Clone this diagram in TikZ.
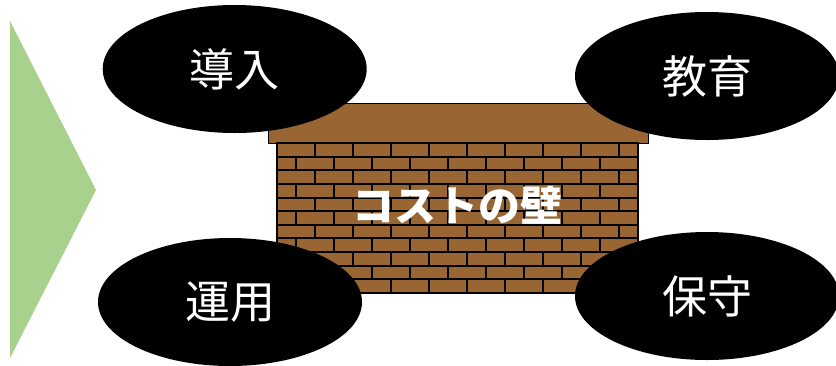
\documentclass[tikz,border=0pt]{standalone}
\usepackage{fontspec}
\newfontfamily\jpfont{Noto Sans CJK JP}
\usetikzlibrary{shapes.geometric}
\definecolor{brickbrown}{RGB}{153,102,51}
\definecolor{arrowgreen}{RGB}{169,209,142}
\begin{document}
\begin{tikzpicture}[x=1pt,y=-1pt,
  bubble/.style={ellipse, fill=black, minimum width=264pt, minimum height=128pt,
    inner sep=0pt, text=white, font=\jpfont\fontsize{45}{50}\selectfont},
  mortar/.style={line width=2pt, black},
  walllabel/.style={text=white, inner sep=0pt,
    font=\jpfont\bfseries\fontsize{42}{46}\selectfont}]
\useasboundingbox (0,0) rectangle (836,365);

% green chevron on the left
\fill[arrowgreen] (10,21) -- (96,190) -- (10,358) -- cycle;

% wall cap
\filldraw[fill=brickbrown, draw=black, line width=1pt]
  (268,103) rectangle (648,143);

% brick wall body
\fill[brickbrown] (277,143) rectangle (638,293);
\begin{scope}
  \clip (277,143) rectangle (638,293);
  \foreach \i in {0,...,10} {
    \pgfmathsetmacro\ya{143+13.636*\i}
    \pgfmathsetmacro\yb{\ya+13.636}
    \pgfmathsetmacro\off{mod(\i,2)*19}
    \foreach \k in {0,...,9}
      \draw[mortar] ({277+\off+38*\k},\ya) -- ({277+\off+38*\k},\yb);
    \draw[mortar] (277,\yb) -- (638,\yb);
  }
\end{scope}
\draw[black, line width=1.5pt] (277,143) rectangle (638,293);
\node[walllabel] (cost) at (457,205) {コストの壁};

% the four cost items
\node[bubble] (intro) at (234.7,69) {導入};
\node[bubble] (edu) at (707,76) {教育};
\node[bubble] (ops) at (230,302) {運用};
\node[bubble] (maint) at (707,296) {保守};
\end{tikzpicture}
\end{document}
